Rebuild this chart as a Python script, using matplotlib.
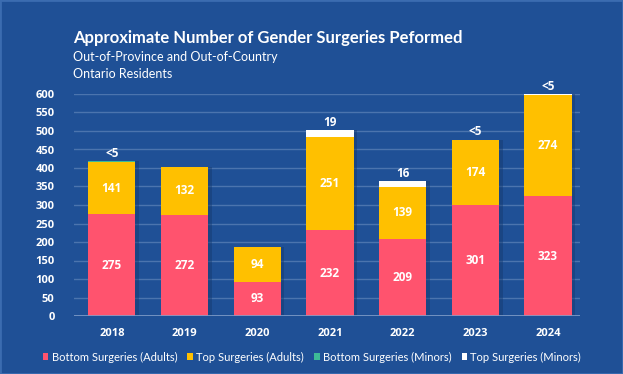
import matplotlib.pyplot as plt
import numpy as np

years = ["2018", "2019", "2020", "2021", "2022", "2023", "2024"]
bottom_adults = [275, 272, 93, 232, 209, 301, 323]
top_adults = [141, 132, 94, 251, 139, 174, 274]
bottom_minors = [2, 0, 0, 0, 0, 0, 0]
top_minors = [0, 0, 0, 19, 16, 2, 2]
top_labels = ["<5", "", "", "19", "16", "<5", "<5"]

series_names = ["Bottom Surgeries (Adults)", "Top Surgeries (Adults)",
                "Bottom Surgeries (Minors)", "Top Surgeries (Minors)"]
colors = ["#FF536E", "#FFC000", "#3DBB97", "#FFFFFF"]
bg = "#1F5096"
grid_c = "#4B74AE"

plt.rcParams['font.family'] = ['Lato', 'DejaVu Sans']

fig = plt.figure(figsize=(6.23, 3.74), dpi=100, facecolor=bg)
ax = fig.add_axes([74/623, 1 - 316/374, (580-74)/623, (316-94)/374])
ax.set_facecolor(bg)

x = np.arange(len(years))
w = 0.65
series = [bottom_adults, top_adults, bottom_minors, top_minors]
base = np.zeros(len(years))
for vals, c, name in zip(series, colors, series_names):
    v = np.array(vals, dtype=float)
    ax.bar(x + 0.05, v, w, bottom=base, color="#15396E", alpha=0.45, zorder=2)
    ax.bar(x, v, w, bottom=base, color=c, label=name, zorder=3)
    base = base + v

for i in range(len(years)):
    ax.text(x[i], bottom_adults[i] / 2, str(bottom_adults[i]), ha='center', va='center',
            color='white', fontsize=8.5, fontweight='bold', zorder=5,
            family=['Open Sans', 'DejaVu Sans'])
    ax.text(x[i], bottom_adults[i] + top_adults[i] / 2, str(top_adults[i]), ha='center',
            va='center', color='white', fontsize=8.5, fontweight='bold', zorder=5,
            family=['Open Sans', 'DejaVu Sans'])
    if top_labels[i]:
        ax.text(x[i], base[i] + 4, top_labels[i], ha='center', va='bottom', color='white',
                fontsize=8.5, fontweight='bold', zorder=5, clip_on=False,
                family=['Open Sans', 'DejaVu Sans'])

ax.set_xlim(-0.52, 6.44)
ax.set_ylim(0, 600)
ax.set_yticks(np.arange(0, 601, 50))
ax.set_xticks(x)
ax.set_xticklabels(years)
ax.yaxis.grid(True, color=grid_c, linewidth=1, zorder=0)
ax.set_axisbelow(True)
for s in ax.spines.values():
    s.set_visible(False)
ax.axhline(0, color="#7F9CC8", linewidth=1.2, zorder=4)
ax.tick_params(axis='both', length=0, colors='white', labelsize=8)
ax.tick_params(axis='y', pad=14)
ax.tick_params(axis='x', pad=9)
for lab in ax.get_xticklabels() + ax.get_yticklabels():
    lab.set_fontweight('bold')
    lab.set_family(['Open Sans', 'DejaVu Sans'])

fig.text(73/623, 1 - 38/374, "Approximate Number of Gender Surgeries Peformed", color='white',
         fontsize=12, fontweight='bold', va='center', ha='left')
fig.text(73/623, 1 - 57/374, "Out-of-Province and Out-of-Country", color='white',
         fontsize=9, va='center', ha='left')
fig.text(73/623, 1 - 74/374, "Ontario Residents", color='white',
         fontsize=9, va='center', ha='left')

handles, labels = ax.get_legend_handles_labels()
leg = fig.legend(handles, labels, loc='center', bbox_to_anchor=(312/623, 1 - 357/374),
                 ncol=4, frameon=False, fontsize=8, handlelength=0.5, handleheight=0.5,
                 handletextpad=0.3, columnspacing=0.9)
for t in leg.get_texts():
    t.set_color('white')

fig.patches.append(plt.Rectangle((0, 0), 1, 1, transform=fig.transFigure, fill=False,
                                 edgecolor="#3B6CB0", linewidth=2))
fig.savefig("out.png", dpi=100, facecolor=bg)
